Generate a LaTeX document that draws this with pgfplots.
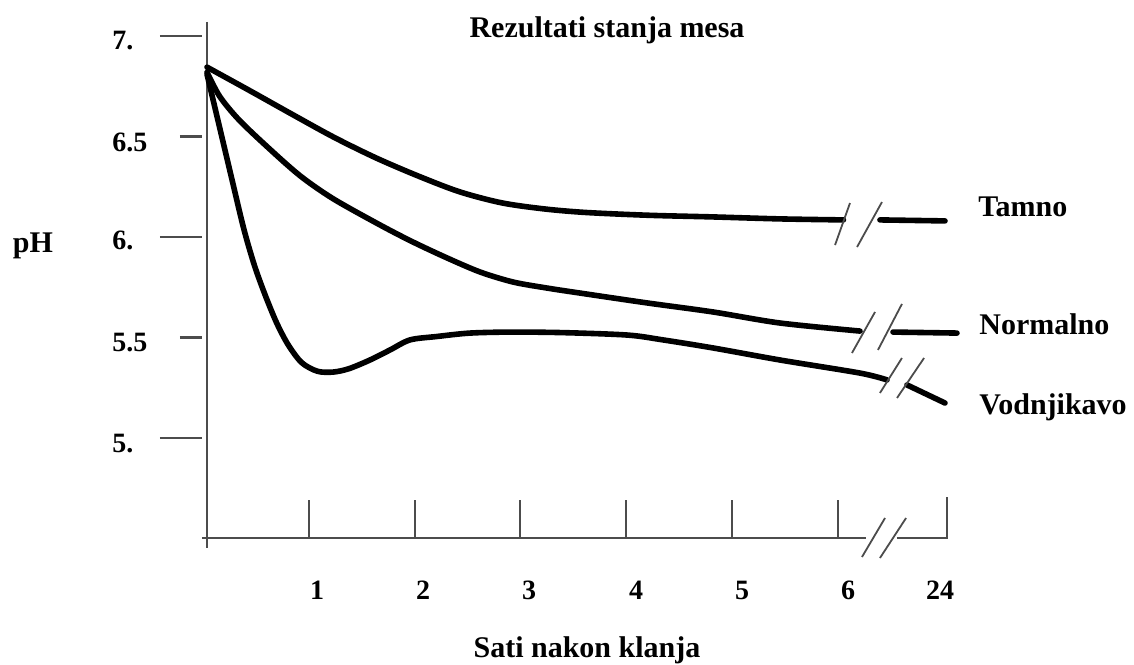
\documentclass[border=0pt]{standalone}
\usepackage{fontspec}
\setmainfont{Liberation Serif}
\usepackage{pgfplots}
\pgfplotsset{compat=1.18}
\definecolor{axgray}{gray}{0.3}
\begin{document}
\begin{tikzpicture}[font=\bfseries]
\useasboundingbox (0,0) rectangle (567pt,332pt);
\begin{axis}[
  at={(103.5pt,52.7pt)}, anchor=south west,
  x=52.6pt, y=100.5pt,
  xmin=0, xmax=7.3, ymin=4.4, ymax=7.1,
  hide axis, clip=false,
  every axis plot/.append style={black, line width=2.8pt, line cap=round, line join=round, no marks},
]
% y axis
\draw[axgray, line width=1.3pt] (axis cs:0,7.07) -- (axis cs:0,4.453);
\pgfplotsinvokeforeach{7,6,5}{\draw[axgray, line width=1.1pt] (axis cs:-0.447,#1) -- (axis cs:-0.048,#1);}
\pgfplotsinvokeforeach{6.5,5.5}{\draw[axgray, line width=1.1pt] (axis cs:-0.257,#1) -- (axis cs:-0.048,#1);}
% x axis
\draw[axgray, line width=1.2pt] (axis cs:-0.048,4.5025) -- (axis cs:6.264,4.5025);
\draw[axgray, line width=1.2pt] (axis cs:6.559,4.5025) -- (axis cs:7.034,4.5025) -- (axis cs:7.034,4.706);
\pgfplotsinvokeforeach{0.97,1.977,2.975,3.983,4.99,5.998}{\draw[axgray, line width=1.1pt] (axis cs:#1,4.5025) -- (axis cs:#1,4.692);}
\draw[axgray, line width=0.9pt] (axis cs:6.226,4.408) -- (axis cs:6.445,4.602);
\draw[axgray, line width=0.9pt] (axis cs:6.397,4.403) -- (axis cs:6.645,4.602);
% Tamno
\addplot[smooth] coordinates {
(0,6.845) (0.4,6.73) (0.8,6.613) (1.2,6.498) (1.6,6.395) (2.0,6.305) (2.4,6.225)
(2.8,6.17) (3.2,6.14) (3.6,6.122) (4.2,6.108) (4.8,6.1) (5.45,6.09) (6.05,6.085)};
\addplot[sharp plot] coordinates {(6.397,6.085) (7.015,6.080)};
% Normalno
\addplot[smooth] coordinates {
(0,6.82) (0.12,6.70) (0.3,6.585) (0.57,6.45) (0.884,6.305) (1.2,6.19) (1.644,6.06) (1.958,5.975)
(2.281,5.896) (2.595,5.826) (2.909,5.776) (3.232,5.746) (3.546,5.721) (4.183,5.672)
(4.81,5.627) (5.447,5.572) (6.207,5.532)};
\addplot[sharp plot] coordinates {(6.521,5.527) (7.129,5.522)};
% Vodnjikavo
\addplot[smooth] coordinates {
(0,6.81) (0.12,6.545) (0.24,6.28) (0.35,6.04) (0.45,5.86) (0.55,5.715) (0.66,5.575)
(0.77,5.465) (0.9,5.375) (1.05,5.332) (1.2,5.328) (1.35,5.345) (1.549,5.388) (1.74,5.438)
(1.93,5.488) (2.186,5.505) (2.5,5.522) (2.9,5.527) (3.4,5.524) (4.0,5.512) (4.335,5.488)
(4.81,5.448) (5.447,5.388) (6.207,5.323) (6.464,5.289)};
\addplot[sharp plot] coordinates {(6.654,5.264) (7.015,5.174)};
% break marks on curves
\draw[axgray, line width=0.9pt] (axis cs:5.970,5.960) -- (axis cs:6.112,6.169);
\draw[axgray, line width=0.9pt] (axis cs:6.179,5.950) -- (axis cs:6.416,6.174);
\draw[axgray, line width=0.9pt] (axis cs:6.131,5.423) -- (axis cs:6.350,5.627);
\draw[axgray, line width=0.9pt] (axis cs:6.378,5.438) -- (axis cs:6.606,5.667);
\draw[axgray, line width=0.9pt] (axis cs:6.397,5.224) -- (axis cs:6.606,5.398);
\draw[axgray, line width=0.9pt] (axis cs:6.559,5.199) -- (axis cs:6.816,5.398);
\end{axis}
% y tick labels
\begingroup\fontsize{14}{16}\selectfont
\node[anchor=base west, inner sep=0pt] at (56pt,307pt) {7.};
\node[anchor=base west, inner sep=0pt] at (56pt,256pt) {6.5};
\node[anchor=base west, inner sep=0pt] at (56pt,207pt) {6.};
\node[anchor=base west, inner sep=0pt] at (56pt,156pt) {5.5};
\node[anchor=base west, inner sep=0pt] at (56pt,106pt) {5.};
% x tick labels
\node[anchor=base, inner sep=0pt] at (158.5pt,32.5pt) {1};
\node[anchor=base, inner sep=0pt] at (211.5pt,32.5pt) {2};
\node[anchor=base, inner sep=0pt] at (264.5pt,32.5pt) {3};
\node[anchor=base, inner sep=0pt] at (318pt,32.5pt) {4};
\node[anchor=base, inner sep=0pt] at (371pt,32.5pt) {5};
\node[anchor=base, inner sep=0pt] at (424pt,32.5pt) {6};
\node[anchor=base, inner sep=0pt] at (470pt,32.5pt) {24};
\endgroup
\begingroup\fontsize{15}{17}\selectfont
\node[anchor=base, inner sep=0pt] at (303.5pt,313pt) {Rezultati stanja mesa};
\node[anchor=base, inner sep=0pt] at (293.5pt,3.5pt) {Sati nakon klanja};
\node[anchor=base, inner sep=0pt] at (16.5pt,205.5pt) {pH};
\node[anchor=base west, inner sep=0pt] at (489pt,223.5pt) {Tamno};
\node[anchor=base west, inner sep=0pt] at (489.5pt,164.5pt) {Normalno};
\node[anchor=base west, inner sep=0pt] at (489.5pt,124.5pt) {Vodnjikavo};
\endgroup
\end{tikzpicture}
\end{document}
